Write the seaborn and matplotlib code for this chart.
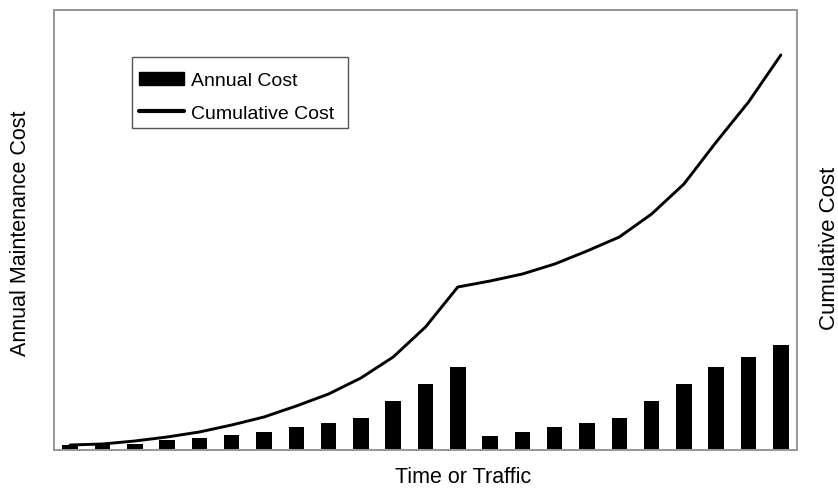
import numpy as np
import pandas as pd
import matplotlib
matplotlib.use("Agg")
import matplotlib.pyplot as plt
import seaborn as sns
from matplotlib.patches import Patch, Rectangle
from matplotlib.lines import Line2D

# ---- data (arbitrary units; no tick labels shown) ----
periods = list(range(23))
annual_cost = [5, 6, 6, 10, 12, 15, 18, 23, 27, 32, 49, 66, 83,
               14, 18, 23, 27, 32, 49, 66, 83, 93, 105]
cumulative_cost = [5, 6, 9, 13, 18, 25, 33, 44, 56, 72, 93, 123, 163,
                   169, 176, 186, 199, 213, 236, 266, 308, 348, 395]
legend_labels = ["Annual Cost", "Cumulative Cost"]
x_label = "Time or Traffic"
y_label_left = "Annual Maintenance Cost"
y_label_right = "Cumulative Cost"

df = pd.DataFrame({"period": periods, "annual": annual_cost, "cumulative": cumulative_cost})

sns.set_theme(style="white")
plt.rcParams["font.family"] = ["Liberation Sans", "DejaVu Sans"]
plt.rcParams["text.color"] = "black"

W, H = 838, 489
fig = plt.figure(figsize=(W / 100, H / 100), dpi=100)
L, R, T, B = 54, 797, 11, 451
ax = fig.add_axes([L / W, 1 - B / H, (R - L) / W, (B - T) / H])

sns.barplot(data=df, x="period", y="annual", color="black", saturation=1,
            width=0.48, ax=ax, edgecolor="black", linewidth=0)
ax.set_xlim(-0.5, len(periods) - 0.5)
ax.set_ylim(0, B - T)

ax2 = ax.twinx()
sns.lineplot(data=df, x="period", y="cumulative", color="black", linewidth=2.1, ax=ax2)
ax2.set_ylim(0, B - T)
ax2.set_xlim(-0.5, len(periods) - 0.5)

for a in (ax, ax2):
    a.set_xticks([])
    a.set_yticks([])
    a.set_xlabel("")
    a.set_ylabel("")
    for s in a.spines.values():
        s.set_color("#999999")
        s.set_linewidth(1.3)
        s.set_visible(True)

fig.text(463 / W, 1 - 478 / H, x_label, ha="center", va="center",
         fontsize=15.5, color="black")
fig.text(21 / W, 1 - 233 / H, y_label_left, ha="center", va="center",
         rotation=90, fontsize=15.5, color="black")
fig.text(829 / W, 1 - 248 / H, y_label_right, ha="center", va="center",
         rotation=90, fontsize=16, color="black")

# legend box (frame drawn separately for exact size)
def fx(px):
    return (px - L) / (R - L)

def fy(py):
    return (B - py) / (B - T)

box = Rectangle((fx(132), fy(129)), fx(348) - fx(132), fy(58) - fy(129),
                transform=ax2.transAxes, facecolor="white", edgecolor="#555555",
                linewidth=1.0, zorder=5)
ax2.add_patch(box)

handles = [Patch(facecolor="black", edgecolor="black"),
           Line2D([0], [0], color="black", linewidth=3)]
leg = ax2.legend(handles, legend_labels, loc="upper left",
                 bbox_to_anchor=(fx(139), fy(73)),
                 borderaxespad=0, borderpad=0, fontsize=14, frameon=False,
                 handlelength=2.3, handleheight=0.68,
                 handletextpad=0.36, labelspacing=0.76, labelcolor="black")
leg.set_zorder(6)

fig.savefig("out.png", dpi=100, facecolor="white")
